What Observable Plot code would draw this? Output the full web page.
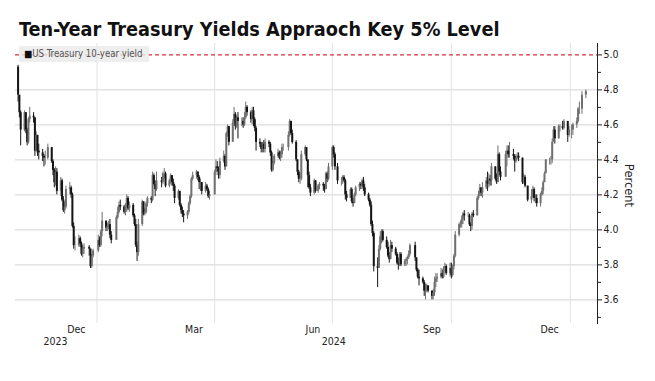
<!DOCTYPE html>
<html><head><meta charset="utf-8">
<script src="https://cdn.jsdelivr.net/npm/d3@7"></script>
<script src="https://cdn.jsdelivr.net/npm/@observablehq/plot@0.6"></script>
<style>
body{margin:0;background:#fff;}
#wrap{position:relative;width:655px;height:381px;overflow:hidden;background:#fff;}
#title{position:absolute;left:19px;top:20px;font-family:"DejaVu Sans Condensed","DejaVu Sans",sans-serif;font-stretch:condensed;font-weight:bold;font-size:19.7px;line-height:19.7px;color:#111;white-space:nowrap;}
#legend{position:absolute;left:19px;top:46px;height:16px;line-height:16px;padding:0 7px 0 5px;background:rgba(234,234,234,0.8);font-family:"DejaVu Sans Condensed","DejaVu Sans",sans-serif;font-stretch:condensed;font-size:9.6px;color:#555;white-space:nowrap;}
#legend b{color:#111;font-weight:normal;}
#chart{position:absolute;left:0;top:0;}
</style></head>
<body>
<div id="wrap">
  <div id="chart"></div>
  <div id="title">Ten-Year Treasury Yields Appraoch Key 5% Level</div>
  <div id="legend"><b>■</b>US Treasury 10-year yield</div>
</div>
<script>
// ---- data (daily US 10-year Treasury yield, %) ----
const dates = [
 // Nov 2023
 "2023-11-01","2023-11-02","2023-11-03","2023-11-06","2023-11-07","2023-11-08","2023-11-09","2023-11-10","2023-11-13","2023-11-14","2023-11-15","2023-11-16","2023-11-17","2023-11-20","2023-11-21","2023-11-22","2023-11-24","2023-11-27","2023-11-28","2023-11-29","2023-11-30",
 // Dec 2023
 "2023-12-01","2023-12-04","2023-12-05","2023-12-06","2023-12-07","2023-12-08","2023-12-11","2023-12-12","2023-12-13","2023-12-14","2023-12-15","2023-12-18","2023-12-19","2023-12-20","2023-12-21","2023-12-22","2023-12-26","2023-12-27","2023-12-28","2023-12-29",
 // Jan 2024
 "2024-01-02","2024-01-03","2024-01-04","2024-01-05","2024-01-08","2024-01-09","2024-01-10","2024-01-11","2024-01-12","2024-01-16","2024-01-17","2024-01-18","2024-01-19","2024-01-22","2024-01-23","2024-01-24","2024-01-25","2024-01-26","2024-01-29","2024-01-30","2024-01-31",
 // Feb 2024
 "2024-02-01","2024-02-02","2024-02-05","2024-02-06","2024-02-07","2024-02-08","2024-02-09","2024-02-12","2024-02-13","2024-02-14","2024-02-15","2024-02-16","2024-02-20","2024-02-21","2024-02-22","2024-02-23","2024-02-26","2024-02-27","2024-02-28","2024-02-29",
 // Mar 2024
 "2024-03-01","2024-03-04","2024-03-05","2024-03-06","2024-03-07","2024-03-08","2024-03-11","2024-03-12","2024-03-13","2024-03-14","2024-03-15","2024-03-18","2024-03-19","2024-03-20","2024-03-21","2024-03-22","2024-03-25","2024-03-26","2024-03-27","2024-03-28",
 // Apr 2024
 "2024-04-01","2024-04-02","2024-04-03","2024-04-04","2024-04-05","2024-04-08","2024-04-09","2024-04-10","2024-04-11","2024-04-12","2024-04-15","2024-04-16","2024-04-17","2024-04-18","2024-04-19","2024-04-22","2024-04-23","2024-04-24","2024-04-25","2024-04-26","2024-04-29","2024-04-30",
 // May 2024
 "2024-05-01","2024-05-02","2024-05-03","2024-05-06","2024-05-07","2024-05-08","2024-05-09","2024-05-10","2024-05-13","2024-05-14","2024-05-15","2024-05-16","2024-05-17","2024-05-20","2024-05-21","2024-05-22","2024-05-23","2024-05-24","2024-05-28","2024-05-29","2024-05-30","2024-05-31",
 // Jun 2024
 "2024-06-03","2024-06-04","2024-06-05","2024-06-06","2024-06-07","2024-06-10","2024-06-11","2024-06-12","2024-06-13","2024-06-14","2024-06-17","2024-06-18","2024-06-20","2024-06-21","2024-06-24","2024-06-25","2024-06-26","2024-06-27","2024-06-28",
 // Jul 2024
 "2024-07-01","2024-07-02","2024-07-03","2024-07-05","2024-07-08","2024-07-09","2024-07-10","2024-07-11","2024-07-12","2024-07-15","2024-07-16","2024-07-17","2024-07-18","2024-07-19","2024-07-22","2024-07-23","2024-07-24","2024-07-25","2024-07-26","2024-07-29","2024-07-30","2024-07-31",
 // Aug 2024
 "2024-08-01","2024-08-02","2024-08-05","2024-08-06","2024-08-07","2024-08-08","2024-08-09","2024-08-12","2024-08-13","2024-08-14","2024-08-15","2024-08-16","2024-08-19","2024-08-20","2024-08-21","2024-08-22","2024-08-23","2024-08-26","2024-08-27","2024-08-28","2024-08-29","2024-08-30",
 // Sep 2024
 "2024-09-03","2024-09-04","2024-09-05","2024-09-06","2024-09-09","2024-09-10","2024-09-11","2024-09-12","2024-09-13","2024-09-16","2024-09-17","2024-09-18","2024-09-19","2024-09-20","2024-09-23","2024-09-24","2024-09-25","2024-09-26","2024-09-27","2024-09-30",
 // Oct 2024
 "2024-10-01","2024-10-02","2024-10-03","2024-10-04","2024-10-07","2024-10-08","2024-10-09","2024-10-10","2024-10-11","2024-10-14","2024-10-15","2024-10-16","2024-10-17","2024-10-18","2024-10-21","2024-10-22","2024-10-23","2024-10-24","2024-10-25","2024-10-28","2024-10-29","2024-10-30","2024-10-31",
 // Nov 2024
 "2024-11-01","2024-11-04","2024-11-05","2024-11-06","2024-11-07","2024-11-08","2024-11-12","2024-11-13","2024-11-14","2024-11-15","2024-11-18","2024-11-19","2024-11-20","2024-11-21","2024-11-22","2024-11-25","2024-11-26","2024-11-27","2024-11-29",
 // Dec 2024
 "2024-12-02","2024-12-03","2024-12-04","2024-12-05","2024-12-06","2024-12-09","2024-12-10","2024-12-11","2024-12-12","2024-12-13","2024-12-16","2024-12-17","2024-12-18","2024-12-19","2024-12-20","2024-12-23","2024-12-24","2024-12-26","2024-12-27","2024-12-30","2024-12-31",
 // Jan 2025
 "2025-01-02","2025-01-03","2025-01-06","2025-01-07","2025-01-08","2025-01-10","2025-01-13"
];
const firstOpen = 4.93;
const close = [
 4.77,4.67,4.57,4.67,4.57,4.50,4.63,4.65,4.64,4.45,4.54,4.45,4.44,4.42,4.41,4.41,4.47,4.39,4.34,4.27,4.33,
 4.22,4.28,4.17,4.11,4.13,4.23,4.24,4.20,4.02,3.91,3.91,3.95,3.92,3.86,3.89,3.90,3.89,3.79,3.85,3.88,
 3.94,3.91,3.99,4.05,4.01,4.02,4.03,3.97,3.94,4.07,4.10,4.14,4.13,4.10,4.13,4.18,4.12,4.14,4.08,4.03,3.91,
 3.87,4.03,4.16,4.09,4.10,4.15,4.18,4.17,4.31,4.26,4.23,4.28,4.27,4.32,4.32,4.25,4.28,4.31,4.27,4.25,
 4.18,4.22,4.14,4.11,4.09,4.08,4.10,4.15,4.19,4.29,4.31,4.33,4.30,4.27,4.27,4.22,4.25,4.23,4.19,4.20,
 4.33,4.36,4.35,4.31,4.39,4.42,4.36,4.55,4.59,4.50,4.61,4.66,4.59,4.64,4.62,4.62,4.60,4.64,4.70,4.67,4.63,4.68,
 4.63,4.58,4.50,4.49,4.46,4.49,4.46,4.50,4.49,4.44,4.34,4.38,4.42,4.44,4.41,4.43,4.47,4.47,4.54,4.62,4.55,4.50,
 4.40,4.33,4.29,4.29,4.43,4.47,4.40,4.31,4.24,4.21,4.28,4.22,4.25,4.26,4.25,4.23,4.32,4.29,4.36,
 4.47,4.43,4.36,4.28,4.28,4.30,4.28,4.20,4.18,4.23,4.16,4.15,4.20,4.24,4.26,4.25,4.28,4.24,4.20,4.17,4.14,4.03,
 3.98,3.79,3.78,3.89,3.96,3.99,3.94,3.90,3.85,3.83,3.91,3.89,3.86,3.81,3.80,3.86,3.80,3.82,3.83,3.84,3.86,3.91,
 3.84,3.77,3.73,3.72,3.70,3.65,3.65,3.68,3.65,3.62,3.64,3.70,3.72,3.73,3.75,3.73,3.78,3.79,3.75,3.78,
 3.74,3.79,3.85,3.97,4.03,4.03,4.06,4.09,4.08,4.08,4.03,4.02,4.09,4.08,4.18,4.20,4.24,4.21,4.24,4.28,4.26,4.29,4.28,
 4.36,4.29,4.27,4.43,4.33,4.30,4.43,4.45,4.43,4.43,4.42,4.39,4.41,4.42,4.41,4.27,4.30,4.25,4.17,
 4.19,4.23,4.18,4.18,4.15,4.20,4.22,4.27,4.32,4.40,4.40,4.40,4.50,4.57,4.52,4.59,4.59,4.58,4.62,4.54,4.57,
 4.57,4.60,4.62,4.69,4.69,4.77,4.79
];
const high = [
 4.94,4.76,4.68,4.68,4.67,4.58,4.64,4.70,4.67,4.64,4.56,4.54,4.49,4.46,4.43,4.45,4.49,4.47,4.40,4.35,4.36,
 4.35,4.30,4.29,4.19,4.16,4.25,4.27,4.25,4.21,4.04,3.96,3.97,3.96,3.93,3.91,3.92,3.91,3.89,3.86,3.89,
 3.97,3.96,4.00,4.10,4.05,4.04,4.05,4.06,3.99,4.08,4.13,4.16,4.17,4.14,4.15,4.20,4.19,4.16,4.15,4.09,4.06,
 3.93,4.06,4.17,4.16,4.12,4.16,4.19,4.19,4.33,4.32,4.28,4.33,4.30,4.33,4.35,4.33,4.29,4.32,4.31,4.29,
 4.26,4.23,4.22,4.15,4.13,4.11,4.11,4.16,4.20,4.30,4.33,4.34,4.33,4.31,4.29,4.27,4.27,4.26,4.24,4.22,
 4.34,4.40,4.39,4.36,4.41,4.45,4.43,4.56,4.60,4.59,4.63,4.70,4.67,4.65,4.67,4.64,4.64,4.67,4.73,4.71,4.68,4.70,
 4.70,4.64,4.59,4.52,4.50,4.50,4.51,4.52,4.51,4.50,4.45,4.39,4.43,4.46,4.45,4.45,4.49,4.49,4.56,4.63,4.62,4.57,
 4.51,4.40,4.34,4.32,4.45,4.48,4.47,4.40,4.33,4.26,4.29,4.28,4.26,4.27,4.27,4.26,4.33,4.33,4.38,
 4.48,4.48,4.44,4.38,4.30,4.31,4.31,4.29,4.22,4.24,4.24,4.18,4.21,4.25,4.27,4.27,4.29,4.30,4.26,4.21,4.18,4.16,
 4.05,3.99,3.84,3.91,3.99,4.00,4.00,3.96,3.93,3.87,3.94,3.93,3.90,3.87,3.84,3.87,3.87,3.83,3.84,3.85,3.88,3.92,
 3.93,3.84,3.78,3.77,3.73,3.71,3.69,3.69,3.68,3.65,3.66,3.73,3.75,3.75,3.78,3.77,3.79,3.81,3.80,3.81,
 3.81,3.80,3.86,3.99,4.04,4.05,4.08,4.10,4.11,4.10,4.09,4.04,4.10,4.11,4.19,4.22,4.26,4.24,4.27,4.30,4.33,4.32,4.31,
 4.38,4.36,4.32,4.48,4.44,4.36,4.45,4.48,4.48,4.50,4.46,4.43,4.43,4.44,4.44,4.41,4.32,4.31,4.25,
 4.23,4.25,4.24,4.20,4.20,4.21,4.24,4.28,4.33,4.40,4.41,4.42,4.52,4.59,4.59,4.60,4.60,4.62,4.63,4.61,4.59,
 4.60,4.61,4.64,4.70,4.73,4.79,4.80
];
const low = [
 4.73,4.64,4.48,4.56,4.55,4.48,4.49,4.61,4.61,4.42,4.44,4.42,4.40,4.39,4.36,4.37,4.40,4.38,4.31,4.24,4.25,
 4.20,4.19,4.16,4.10,4.09,4.12,4.20,4.18,4.01,3.89,3.88,3.90,3.90,3.85,3.84,3.86,3.85,3.78,3.78,3.84,
 3.87,3.90,3.90,3.96,3.99,3.99,4.00,3.95,3.92,3.95,4.06,4.09,4.11,4.09,4.08,4.10,4.11,4.10,4.07,4.02,3.90,
 3.82,3.85,4.02,4.08,4.08,4.09,4.13,4.15,4.16,4.25,4.19,4.22,4.24,4.26,4.29,4.24,4.24,4.26,4.25,4.22,
 4.15,4.17,4.13,4.09,4.07,4.04,4.06,4.09,4.14,4.18,4.28,4.29,4.28,4.23,4.22,4.20,4.21,4.22,4.18,4.17,
 4.20,4.31,4.33,4.29,4.29,4.38,4.34,4.36,4.53,4.48,4.52,4.60,4.57,4.58,4.52,4.59,4.58,4.59,4.63,4.65,4.61,4.60,
 4.59,4.56,4.45,4.47,4.44,4.44,4.44,4.44,4.47,4.42,4.33,4.33,4.37,4.41,4.40,4.39,4.41,4.45,4.45,4.53,4.54,4.49,
 4.39,4.31,4.27,4.26,4.28,4.42,4.39,4.24,4.23,4.19,4.20,4.21,4.21,4.23,4.22,4.21,4.23,4.27,4.28,
 4.34,4.41,4.34,4.26,4.25,4.26,4.27,4.17,4.16,4.18,4.15,4.13,4.15,4.19,4.22,4.23,4.23,4.22,4.19,4.16,4.13,4.02,
 3.96,3.76,3.67,3.78,3.88,3.92,3.93,3.89,3.84,3.81,3.83,3.87,3.85,3.80,3.77,3.79,3.79,3.79,3.79,3.80,3.83,3.85,
 3.82,3.76,3.72,3.68,3.69,3.62,3.60,3.64,3.64,3.60,3.60,3.62,3.67,3.70,3.72,3.72,3.72,3.76,3.74,3.73,
 3.72,3.73,3.77,3.84,3.96,4.01,4.01,4.03,4.05,4.07,4.02,3.99,4.00,4.07,4.08,4.17,4.19,4.19,4.18,4.23,4.22,4.24,4.25,
 4.25,4.28,4.26,4.30,4.31,4.28,4.31,4.36,4.41,4.41,4.40,4.33,4.38,4.40,4.39,4.26,4.26,4.24,4.16,
 4.15,4.18,4.16,4.15,4.13,4.13,4.19,4.20,4.27,4.33,4.37,4.37,4.38,4.50,4.49,4.52,4.56,4.57,4.57,4.50,4.53,
 4.52,4.54,4.58,4.61,4.66,4.66,4.75
];

// ---- axis / tick labels ----
const yTicks = [3.6, 3.8, 4.0, 4.2, 4.4, 4.6, 4.8, 5.0];
const yMinorTicks = [3.5, 3.7, 3.9, 4.1, 4.3, 4.5, 4.7, 4.9];
const keyLevel = 5.0;
const monthLabels = ["Dec", "Mar", "Jun", "Sep", "Dec"];
const monthLabelDates = ["2023-12-16", "2024-03-16", "2024-06-16", "2024-09-16", "2024-12-16"];
const quarterGridDates = ["2024-01-01", "2024-04-01", "2024-07-01", "2024-10-01", "2025-01-01"];
const yearLabels = ["2023", "2024"];
const yearLabelDates = ["2023-11-30", "2024-07-02"];
const xDomain = ["2023-10-30", "2025-01-22"];
const yDomain = [3.465, 5.065];

// ---- build table ----
const parse = d3.utcParse("%Y-%m-%d");
const bars = dates.map((d, i) => ({
  date: parse(d),
  open: i === 0 ? firstOpen : close[i - 1],
  close: close[i],
  high: high[i],
  low: low[i]
}));
bars.forEach(b => b.up = b.close >= b.open);
const months = monthLabels.map((m, i) => ({date: parse(monthLabelDates[i]), label: m}));
const years = yearLabels.map((y, i) => ({date: parse(yearLabelDates[i]), label: y}));

const FONT = '"DejaVu Sans Condensed", "DejaVu Sans", sans-serif';

const chart = Plot.plot({
  width: 655,
  height: 381,
  marginTop: 43,
  marginBottom: 58,
  marginLeft: 15,
  marginRight: 58,
  style: {fontFamily: FONT, fontSize: "10.5px", color: "#222", background: "transparent"},
  x: {type: "utc", domain: xDomain.map(parse), axis: null},
  y: {domain: yDomain, axis: null},
  marks: [
    Plot.ruleY(yTicks.filter(v => v !== keyLevel), {stroke: "#d4d4d4", strokeWidth: 1}),
    Plot.ruleX(quarterGridDates.map(parse), {stroke: "#e2e2e2", strokeWidth: 1}),
    Plot.ruleY([keyLevel], {stroke: "#d8323c", strokeWidth: 1.1, strokeDasharray: "4,3"}),
    Plot.ruleX(bars, {x: "date", y1: "low", y2: "high", stroke: d => d.up ? "#707070" : "#151515", strokeWidth: 1}),
    Plot.ruleX(bars, {x: "date", y1: "open", y2: "close", stroke: d => d.up ? "#707070" : "#151515", strokeWidth: 2}),
    Plot.frame({anchor: "right", stroke: "#222"}),
    Plot.axisY(yMinorTicks, {anchor: "right", tickSize: 3, text: null, stroke: "#222"}),
    Plot.axisY(yTicks, {anchor: "right", tickSize: 4, tickPadding: 2, tickFormat: d3.format(".1f"), label: null, stroke: "#222", fill: "#222", fontSize: 10.5}),
    Plot.text(["Percent"], {frameAnchor: "right", textAnchor: "middle", dx: 31, dy: 2, rotate: 90, fontSize: 11.5, fill: "#222", fontFamily: '"DejaVu Sans", sans-serif'}),
    Plot.text(months, {x: "date", text: "label", frameAnchor: "bottom", dy: 9, fontSize: 10.5, fill: "#222"}),
    Plot.text(years, {x: "date", text: "label", frameAnchor: "bottom", dy: 21, fontSize: 10.5, fill: "#222"})
  ]
});
document.getElementById("chart").appendChild(chart);
</script>
</body></html>
